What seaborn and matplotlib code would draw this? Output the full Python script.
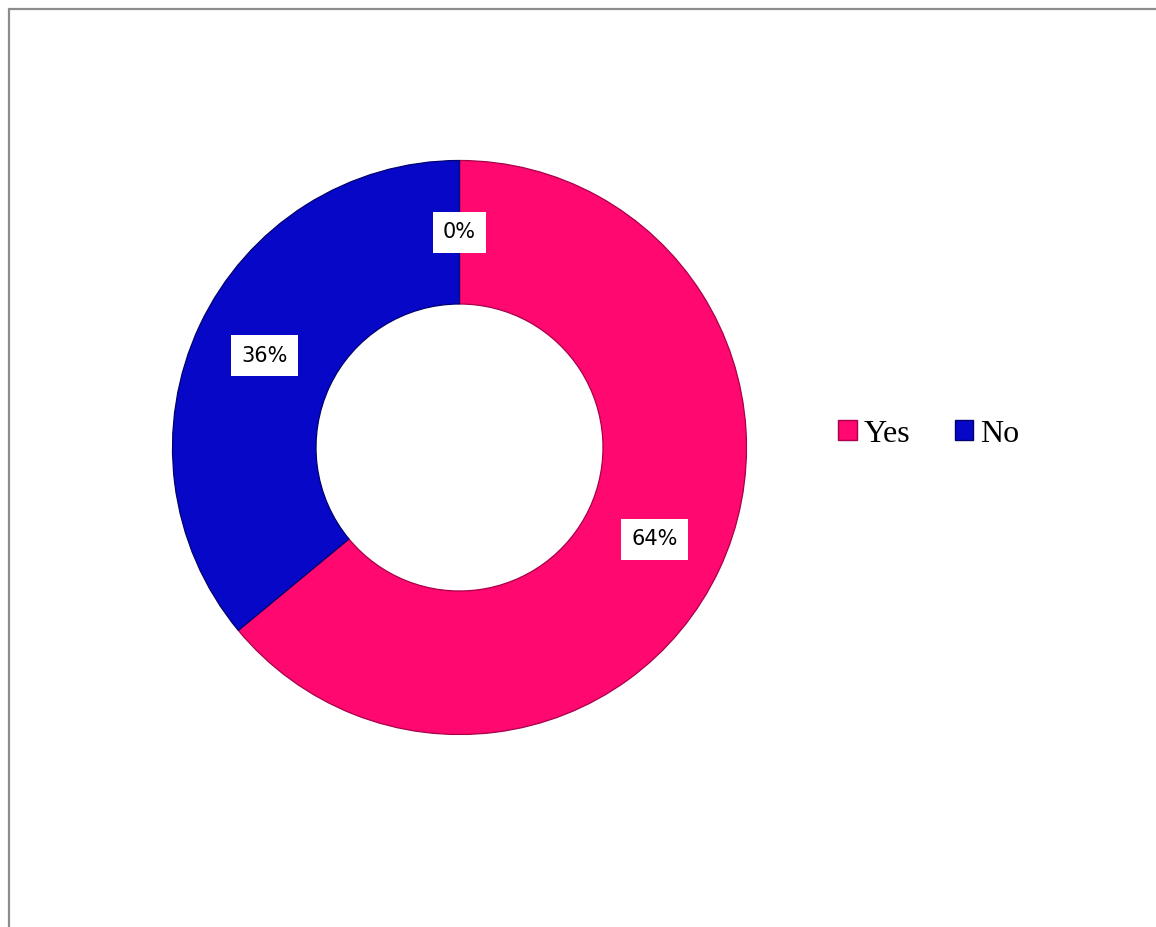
import matplotlib
matplotlib.use("Agg")
import matplotlib.pyplot as plt
from matplotlib.lines import Line2D
from matplotlib.patches import Rectangle
import seaborn as sns

# Survey answers (percent of respondents)
categories = ["Yes", "No", ""]
values = [64, 36, 0]
colors = ["#FF0870", "#0707C8", "#FFFFFF"]
edge_colors = ["#A8004A", "#000070", "none"]

sns.set_theme(style="white")
plt.rcParams["font.family"] = ["DejaVu Sans"]

fig = plt.figure(figsize=(11.56, 9.27), dpi=100)
fig.patch.set_facecolor("white")

# Donut axes: centre ~ (459, 447) px, outer radius ~287 px
W, H = 1156, 927
cx, cy, r = 459.5, 447.5, 287
ax = fig.add_axes([(cx - r) / W, (H - cy - r) / H, 2 * r / W, 2 * r / H])

wedges, texts, autotexts = ax.pie(
    values,
    colors=colors,
    startangle=90,
    counterclock=False,
    radius=1.0,
    autopct="%.0f%%",
    pctdistance=0.75,
    wedgeprops=dict(width=0.5, linewidth=0.9),
    textprops=dict(fontsize=15, color="black"),
)
for w, ec in zip(wedges, edge_colors):
    w.set_edgecolor(ec)
    if ec == "none":
        w.set_linewidth(0)
for t in autotexts:
    t.set_bbox(dict(boxstyle="square,pad=0.5", facecolor="white", edgecolor="none"))
ax.set_xlim(-1, 1)
ax.set_ylim(-1, 1)
ax.set_aspect("equal")
ax.axis("off")

# Legend for the answered categories
handles = []
labels = []
for name, val, c, ec in zip(categories, values, colors, edge_colors):
    if name:
        handles.append(Rectangle((0, 0), 1, 1, facecolor=c, edgecolor=ec, linewidth=1))
        labels.append(name)
fig.legend(
    handles, labels,
    loc="center left",
    bbox_to_anchor=(838 / W, 1 - 434 / H),
    ncol=2,
    frameon=False,
    borderpad=0,
    borderaxespad=0,
    handlelength=0.58,
    handleheight=0.58,
    handletextpad=0.22,
    columnspacing=1.4,
    labelcolor="black",
    prop=dict(family="Liberation Serif", size=23),
)

# Chart-area border (top and left edges visible)
fig.add_artist(Line2D([8.5 / W, 1.0], [1 - 8.5 / H, 1 - 8.5 / H],
                      transform=fig.transFigure, color="#8C8C8C", linewidth=1.6))
fig.add_artist(Line2D([8.5 / W, 8.5 / W], [0.0, 1 - 8.5 / H],
                      transform=fig.transFigure, color="#8C8C8C", linewidth=1.6))

fig.savefig("out.png", dpi=100, facecolor="white")
